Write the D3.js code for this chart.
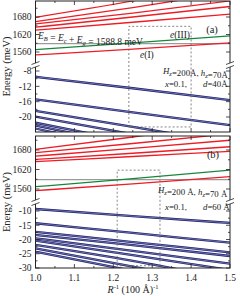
<!DOCTYPE html>
<html><head><meta charset="utf-8">
<script src="https://cdn.jsdelivr.net/npm/d3@7"></script>
<style>body{margin:0;background:#fff}svg{display:block}text{font-family:"Liberation Serif","DejaVu Serif",serif;fill:#222}</style>
</head><body>
<script>
// ---- data ----
const xSamples = [1.0, 1.25, 1.5];
const xTicks = [1.0, 1.1, 1.2, 1.3, 1.4, 1.5];
const upperTicks = [1560, 1620, 1680];
const lowerTicksA = [-8, -12, -16, -20];
const lowerTicksB = [-10, -15, -20, -25, -30];
const egValue = 1588.8;
// panel (a)
const aRed = [
  [1679, 1735, 1800],
  [1664, 1712, 1765],
  [1656, 1693, 1735],
  [1645, 1680, 1716],
  [1635, 1662, 1690]
];
const aRedLow = [1550, 1570, 1591];
const aGreen = [1568, 1591, 1615];
const aBlue = [
  [-9.5, -12.5, -15.6],
  [-15.4, -18.8, -22.1],
  [-18.4, -22.6, -26.8],
  [-19.9, -24.5, -29],
  [-21.5, -26.5, -31.5],
  [-22.2, -27.5, -33],
  [-23.0, -28.5, -34]
];
// panel (b)
const bRed = [
  [1682, 1720, 1760],
  [1672, 1700, 1730],
  [1661, 1685, 1710],
  [1651, 1670, 1690],
  [1644, 1660, 1676]
];
const bRedLow = [1555, 1576, 1598];
const bGreen = [1567, 1592, 1618];
const bBlue = [
  [-9.3, -11.8, -14.2],
  [-14.3, -17.7, -21.1],
  [-17.3, -20.9, -24.5],
  [-18.4, -22.0, -25.8],
  [-19.6, -24.0, -28.5],
  [-20.4, -25.5, -30.7],
  [-21.9, -27.5, -34],
  [-23.1, -29.5, -36],
  [-24.3, -31, -38]
];
const boxA = {x: [1.24, 1.40], top: 1648, bottom: -22.6};
const boxB = {x: [1.21, 1.32], top: 1618, bottom: -29.2};

// ---- drawing ----
const W = 240, H = 296;
const svg = d3.select("body").append("svg").attr("width", W).attr("height", H);
const x = d3.scaleLinear().domain([1.0, 1.5]).range([35.5, 230]);
const RED = "#ee1c25", GREEN = "#16873a", NAVY = "#1b1f6e";

const panels = [
  {id: "a", top: 1, brk: 65, bottom: 132,
   yu: d3.scaleLinear().domain([1560, 1680]).range([52, 17]),
   yl: d3.scaleLinear().domain([-8, -20]).range([71, 117]),
   lowTicks: lowerTicksA, red: aRed, redLow: aRedLow, green: aGreen, blue: aBlue, box: boxA},
  {id: "b", top: 136, brk: 202, bottom: 268,
   yu: d3.scaleLinear().domain([1560, 1680]).range([189, 150]),
   yl: d3.scaleLinear().domain([-10, -30]).range([211, 268]),
   lowTicks: lowerTicksB, red: bRed, redLow: bRedLow, green: bGreen, blue: bBlue, box: boxB}
];

panels.forEach(p => {
  const x0 = x.range()[0], x1 = x.range()[1];
  const defs = svg.append("defs");
  defs.append("clipPath").attr("id", "cu" + p.id).append("rect")
    .attr("x", x0).attr("y", p.top).attr("width", x1 - x0).attr("height", p.brk - p.top);
  defs.append("clipPath").attr("id", "cl" + p.id).append("rect")
    .attr("x", x0).attr("y", p.brk).attr("width", x1 - x0).attr("height", p.bottom - p.brk);
  const gu = svg.append("g").attr("clip-path", `url(#cu${p.id})`);
  const gl = svg.append("g").attr("clip-path", `url(#cl${p.id})`);
  const lu = d3.line().x((d, i) => x(xSamples[i])).y(d => p.yu(d)).curve(d3.curveMonotoneX);
  const ll = d3.line().x((d, i) => x(xSamples[i])).y(d => p.yl(d)).curve(d3.curveMonotoneX);

  gu.append("line").attr("x1", x0).attr("x2", x1).attr("y1", p.yu(egValue)).attr("y2", p.yu(egValue))
    .attr("stroke", "#9a9a9a").attr("stroke-width", 1.2);
  gu.selectAll(".r").data(p.red).join("path").attr("d", lu).attr("fill", "none").attr("stroke", RED).attr("stroke-width", 1.3);
  gu.append("path").attr("d", lu(p.redLow)).attr("fill", "none").attr("stroke", RED).attr("stroke-width", 1.3);
  gu.append("path").attr("d", lu(p.green)).attr("fill", "none").attr("stroke", GREEN).attr("stroke-width", 1.3);
  gl.selectAll(".b").data(p.blue).join("path").attr("d", ll).attr("fill", "none").attr("stroke", NAVY).attr("stroke-width", 2.3);
  gl.selectAll(".bi").data(p.blue).join("path").attr("d", ll).attr("fill", "none").attr("stroke", "#a4a6cc").attr("stroke-width", 0.6);

  const bx0 = x(p.box.x[0]), bx1 = x(p.box.x[1]), by0 = p.yu(p.box.top), by1 = p.yl(p.box.bottom);
  svg.append("path").attr("d", `M${bx0},${by1}V${by0}H${bx1}V${by1}H${bx0}`)
    .attr("fill", "none").attr("stroke", "#666").attr("stroke-width", 0.8).attr("stroke-dasharray", "2,2");

  svg.append("rect").attr("x", x0).attr("y", p.top).attr("width", x1 - x0).attr("height", p.bottom - p.top)
    .attr("fill", "none").attr("stroke", "#222").attr("stroke-width", 1);

  const xt = d3.range(1.0, 1.5001, 0.05);
  xt.forEach((v, i) => {
    const L = i % 2 === 0 ? 4 : 2;
    svg.append("line").attr("x1", x(v)).attr("x2", x(v)).attr("y1", p.bottom).attr("y2", p.bottom - L).attr("stroke", "#222").attr("stroke-width", 0.8);
    svg.append("line").attr("x1", x(v)).attr("x2", x(v)).attr("y1", p.top).attr("y2", p.top + L).attr("stroke", "#222").attr("stroke-width", 0.8);
  });
  const ytick = (yy, L) => {
    svg.append("line").attr("x1", x0).attr("x2", x0 + L).attr("y1", yy).attr("y2", yy).attr("stroke", "#222").attr("stroke-width", 0.8);
    svg.append("line").attr("x1", x1).attr("x2", x1 - L).attr("y1", yy).attr("y2", yy).attr("stroke", "#222").attr("stroke-width", 0.8);
  };
  upperTicks.forEach(v => {
    ytick(p.yu(v), 4);
    svg.append("text").attr("x", x0 - 4).attr("y", p.yu(v)).attr("dy", "0.35em").attr("text-anchor", "end").attr("font-size", 9.5).text(v);
  });
  [1590, 1650, 1710].forEach(v => { const yy = p.yu(v); if (yy > p.top + 1 && yy < p.brk - 1) ytick(yy, 2); });
  const step = p.lowTicks[0] - p.lowTicks[1];
  p.lowTicks.forEach(v => {
    ytick(p.yl(v), 4);
    svg.append("text").attr("x", x0 - 4).attr("y", p.yl(v)).attr("dy", "0.35em").attr("text-anchor", "end").attr("font-size", 9.5).text(v);
    const m = v - step / 2; const yy = p.yl(m);
    if (yy > p.brk + 1 && yy < p.bottom - 1) ytick(yy, 2);
  });

  [x0, x1].forEach(bx => {
    const g = svg.append("g").attr("transform", `translate(${bx},${p.brk})`);
    g.append("path").attr("d", "M-4,-0.5 L4,-3.5 L4,0.5 L-4,3.5Z").attr("fill", "#fff");
    g.append("line").attr("x1", -4).attr("y1", -0.5).attr("x2", 4).attr("y2", -3.5).attr("stroke", "#222").attr("stroke-width", 0.8);
    g.append("line").attr("x1", -4).attr("y1", 3.5).attr("x2", 4).attr("y2", 0.5).attr("stroke", "#222").attr("stroke-width", 0.8);
  });

  svg.append("text").attr("transform", `translate(10,${(p.top + p.bottom) / 2}) rotate(-90)`)
    .attr("text-anchor", "middle").attr("font-size", 10.5).text("Energy (meV)");
});

xTicks.forEach(v => {
  svg.append("text").attr("x", x(v)).attr("y", 281).attr("text-anchor", "middle").attr("font-size", 9.5).text(v.toFixed(1));
});
const xtt = svg.append("text").attr("x", 133).attr("y", 293).attr("text-anchor", "middle").attr("font-size", 10);
xtt.append("tspan").attr("font-style", "italic").text("R");
xtt.append("tspan").attr("dy", -4).attr("font-size", 6.5).text("-1");
xtt.append("tspan").attr("dy", 4).text(" (100 Å)");
xtt.append("tspan").attr("dy", -4).attr("font-size", 6.5).text("-1");

function sub(t, main, s) {
  t.append("tspan").attr("font-style", "italic").text(main);
  t.append("tspan").attr("dy", 2).attr("font-size", 6.5).attr("font-style", "italic").text(s);
  t.append("tspan").attr("dy", -2).text("");
}
let t = svg.append("text").attr("x", 38).attr("y", 39).attr("font-size", 9.5);
sub(t, "E", "B"); t.append("tspan").text(" = "); sub(t, "E", "c"); t.append("tspan").text(" + "); sub(t, "E", "g");
t.append("tspan").text(" = 1588.8 meV");

svg.append("text").attr("x", 212).attr("y", 33).attr("text-anchor", "middle").attr("font-size", 10.5).text("(a)");
t = svg.append("text").attr("x", 190).attr("y", 38).attr("text-anchor", "end").attr("font-size", 9.5);
t.append("tspan").attr("font-style", "italic").text("e"); t.append("tspan").text("(III)");
t = svg.append("text").attr("x", 140).attr("y", 58).attr("font-size", 9.5);
t.append("tspan").attr("font-style", "italic").text("e"); t.append("tspan").text("(I)");

function params(y1, y2, xx1, xx2, dval, sp) {
  let t = svg.append("text").attr("x", xx1).attr("y", y1).attr("font-size", 8.8);
  sub(t, "H", "z"); t.append("tspan").text(`=200${sp}Å, `); sub(t, "h", "z"); t.append("tspan").text(`=70${sp}Å`);
  t = svg.append("text").attr("x", xx2).attr("y", y2).attr("font-size", 8.8);
  t.append("tspan").attr("font-style", "italic").text("x"); t.append("tspan").text("=0.1,");
  t.append("tspan").attr("x", xx2 + 38).attr("font-style", "italic").text("d");
  t.append("tspan").text(`=${dval}${sp}Å`);
}
params(74, 87, 163, 165, 40, "");
svg.append("text").attr("x", 213).attr("y", 158).attr("text-anchor", "middle").attr("font-size", 10.5).text("(b)");
params(193, 210, 158, 165, 60, " ");
</script>
</body></html>
